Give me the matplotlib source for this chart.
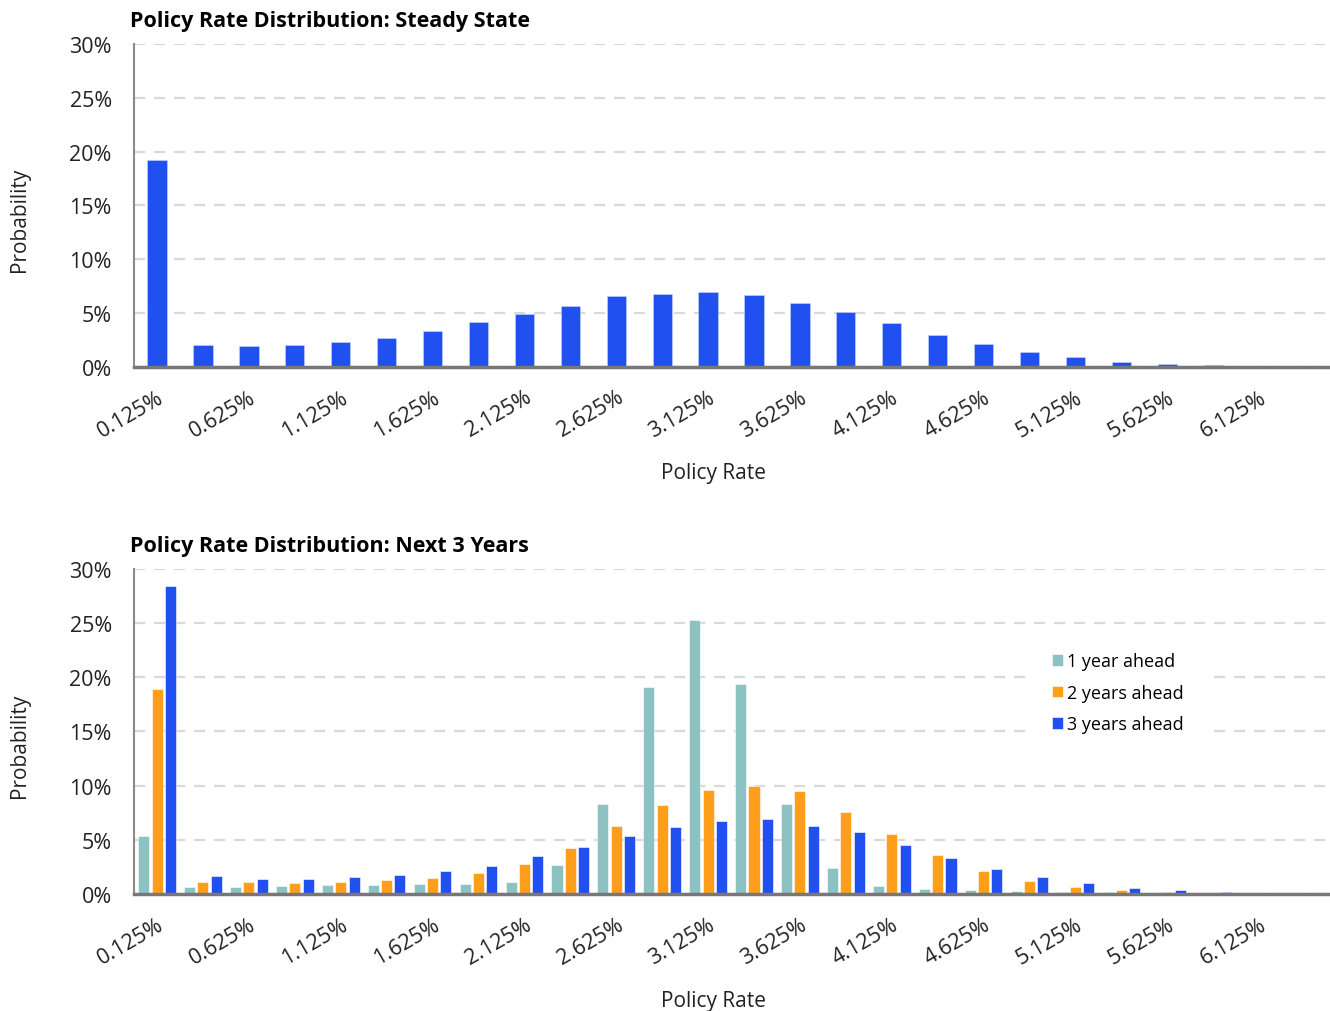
import numpy as np
import matplotlib
matplotlib.use("Agg")
import matplotlib.pyplot as plt
from matplotlib.ticker import PercentFormatter

plt.rcParams['font.family'] = ['Open Sans', 'DejaVu Sans']

# policy rate bins (0.125% .. 6.375% in 0.25 steps)
rates = ["0.125%", "0.375%", "0.625%", "0.875%", "1.125%", "1.375%", "1.625%",
         "1.875%", "2.125%", "2.375%", "2.625%", "2.875%", "3.125%", "3.375%",
         "3.625%", "3.875%", "4.125%", "4.375%", "4.625%", "4.875%", "5.125%",
         "5.375%", "5.625%", "5.875%", "6.125%", "6.375%"]

# probabilities in %
steady_state = [19.26, 2.00, 1.91, 2.07, 2.31, 2.72, 3.30, 4.14, 4.94, 5.62, 6.60,
                6.76, 6.94, 6.67, 5.96, 5.09, 4.04, 2.93, 2.16, 1.42, 0.90, 0.49,
                0.28, 0.15, 0.05, 0.0]

year1 = [5.37, 0.61, 0.64, 0.71, 0.80, 0.80, 0.92, 0.92, 1.14, 2.64, 8.29, 19.10,
         25.30, 19.37, 8.32, 2.36, 0.77, 0.43, 0.40, 0.31, 0.21, 0.15, 0.13, 0.08,
         0.03, 0.0]
year2 = [18.91, 1.11, 1.11, 1.04, 1.10, 1.26, 1.44, 1.90, 2.73, 4.27, 6.29, 8.20,
         9.64, 9.98, 9.49, 7.55, 5.56, 3.59, 2.09, 1.20, 0.61, 0.34, 0.18, 0.13,
         0.08, 0.0]
year3 = [28.43, 1.63, 1.41, 1.35, 1.54, 1.75, 2.09, 2.61, 3.53, 4.36, 5.40, 6.20,
         6.75, 6.88, 6.32, 5.68, 4.54, 3.29, 2.33, 1.54, 0.98, 0.52, 0.34, 0.15,
         0.08, 0.0]

series_names = ["1 year ahead", "2 years ahead", "3 years ahead"]
colors = ["#8cc2c2", "#ff9e1b", "#2050f0"]

x = np.arange(len(rates))

fig = plt.figure(figsize=(13.3, 10.12), dpi=100)
ax1 = fig.add_axes([0.1008, 0.6364, 0.8977, 0.3191])
ax2 = fig.add_axes([0.1008, 0.1156, 0.8977, 0.3212])


def style_axes(ax, title):
    ax.set_xlim(-0.5, len(rates) - 0.5)
    ax.set_ylim(0, 30)
    ax.set_yticks(range(0, 31, 5))
    ax.yaxis.set_major_formatter(PercentFormatter(decimals=0))
    ax.set_xticks(x[::2])
    ax.set_xticklabels(rates[::2], rotation=30, ha='right', rotation_mode='anchor')
    ax.tick_params(axis='both', length=0, labelsize=15.5, colors='#222222')
    ax.tick_params(axis='x', pad=14)
    ax.tick_params(axis='y', pad=16)
    ax.grid(axis='y', color='#d9d9d9', linestyle=(0, (5, 4)), linewidth=1.6)
    ax.set_axisbelow(True)
    for s in ['top', 'right']:
        ax.spines[s].set_visible(False)
    ax.spines['left'].set_color('#8a8a8a')
    ax.spines['left'].set_linewidth(1.5)
    ax.spines['bottom'].set_color('#777777')
    ax.spines['bottom'].set_linewidth(2.5)
    ax.spines['bottom'].set_zorder(5)
    ax.set_title(title, loc='left', fontsize=15.5, fontweight='bold', pad=13, x=-0.003)
    ax.set_xlabel("Policy Rate", fontsize=15, color='#222222')
    ax.xaxis.set_label_coords(0.485, -0.295)
    ax.set_ylabel("Probability", fontsize=15, color='#222222')
    ax.yaxis.set_label_coords(-0.087, 0.46)


# top: steady state
ax1.bar(x, steady_state, width=0.42, color=colors[2], edgecolor='#c8d4fb', linewidth=0.4)
style_axes(ax1, "Policy Rate Distribution: Steady State")

# bottom: next 3 years
w = 0.24
step = 0.29
for i, (vals, name) in enumerate(zip([year1, year2, year3], series_names)):
    ax2.bar(x + (i - 1) * step, vals, width=w, color=colors[i], label=name,
            edgecolor='white', linewidth=0.4)
style_axes(ax2, "Policy Rate Distribution: Next 3 Years")

leg = ax2.legend(loc='upper left', bbox_to_anchor=(0.751, 0.81), fontsize=13,
                 frameon=True, facecolor='white', edgecolor='none', framealpha=1,
                 fancybox=False, handlelength=0.6, handleheight=0.6,
                 handletextpad=0.2, labelspacing=0.75, borderpad=1.2,
                 borderaxespad=0)
leg.get_frame().set_boxstyle('square', pad=0.0)

fig.savefig("out.png", dpi=100)
